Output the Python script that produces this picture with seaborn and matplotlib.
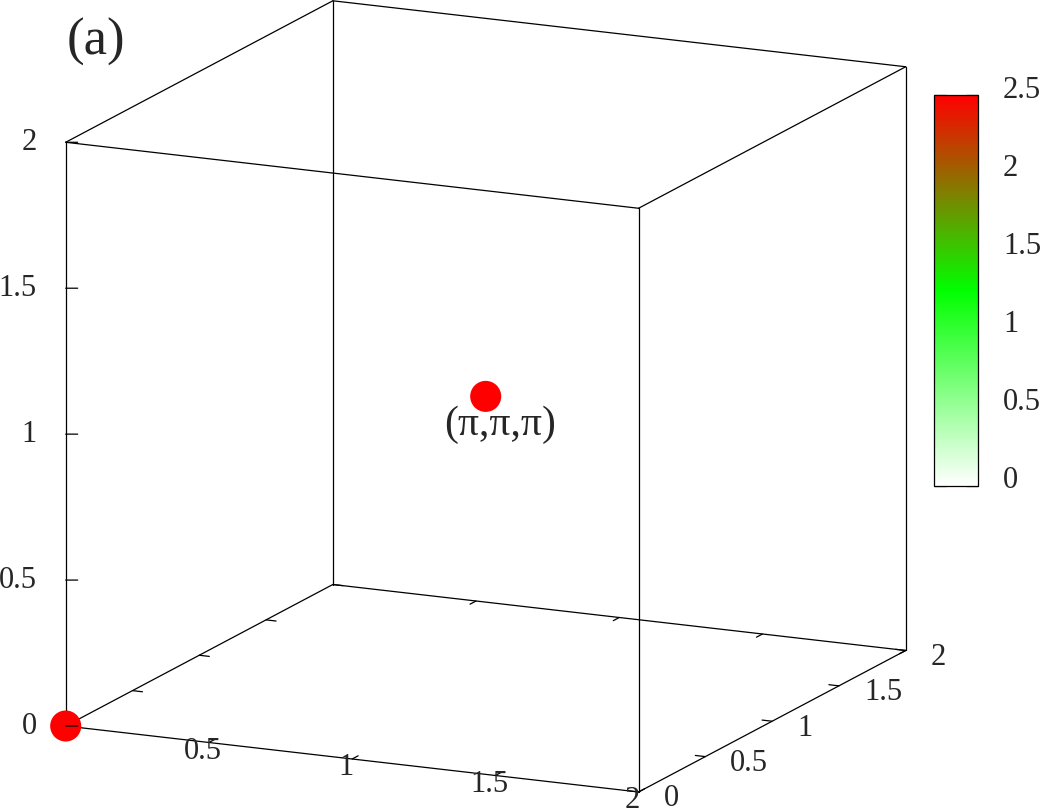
import numpy as np
import matplotlib
matplotlib.use("Agg")
import matplotlib.pyplot as plt
import matplotlib.transforms as mtransforms
from matplotlib.colors import LinearSegmentedColormap
from mpl_toolkits.mplot3d import proj3d
import seaborn as sns

# --- data ---
axis_range = [0, 2]
point_x = [0, 1]
point_y = [0, 1]
point_z = [0, 1]
point_value = [2.5, 2.5]
point_labels = ["", "(π,π,π)"]
x_ticks = [0.5, 1, 1.5, 2]
y_ticks = [0, 0.5, 1, 1.5, 2]
z_ticks = [0, 0.5, 1, 1.5, 2]
cb_range = [0, 2.5]
cb_ticks = [0, 0.5, 1, 1.5, 2, 2.5]
palette = ["#ffffff", "#00ff00", "#ff0000"]
panel_tag = "(a)"

W, H, DPI = 1041, 809, 100
LW = 0.9
TICK_FS = 22

sns.set_style("white")
plt.rcParams["font.family"] = ["Liberation Serif", "DejaVu Serif"]

cmap = LinearSegmentedColormap.from_list("white_green_red", palette)

fig = plt.figure(figsize=(W / DPI, H / DPI), dpi=DPI)
ax = fig.add_axes([0, 0, 1, 1], projection="3d")
ax.set_proj_type("ortho")
ax.view_init(elev=14.3, azim=-65)
ax.set_box_aspect((1, 1, 0.953))
ax.set_axis_off()
ax.computed_zorder = False

lo, hi = axis_range

# cube frame
corners = [(x, y, z) for x in axis_range for y in axis_range for z in axis_range]
for a in corners:
    for b in corners:
        if a < b and sum(p != q for p, q in zip(a, b)) == 1:
            ax.plot(*zip(a, b), color="black", lw=LW, zorder=1)


def seg(p, d, z=1):
    ax.plot([p[0], p[0] + d[0]], [p[1], p[1] + d[1]], [p[2], p[2] + d[2]],
            color="black", lw=LW, zorder=z)


# tick marks (mirrored on the back edges, like gnuplot)
for v in x_ticks:
    seg((v, lo, lo), (0, 0.045, 0))
    seg((v, hi, lo), (0, -0.045, 0))
for v in y_ticks:
    seg((hi, v, lo), (-0.035, 0, 0))
    seg((lo, v, lo), (0.035, 0, 0))
for v in z_ticks:
    seg((lo, lo, v), (0.0344, 0.016, 0), z=5)

sc = ax.scatter(point_x, point_y, point_z, c=point_value, cmap=cmap,
                vmin=cb_range[0], vmax=cb_range[1], s=500, depthshade=False,
                edgecolors="none", zorder=3)
ax.set_xlim(axis_range)
ax.set_ylim(axis_range)
ax.set_zlim(axis_range)

# place the projected cube where the reference has it
fig.canvas.draw()


def to_px(xs, ys, zs):
    px, py, _ = proj3d.proj_transform(np.asarray(xs, float), np.asarray(ys, float),
                                      np.asarray(zs, float), ax.get_proj())
    return ax.transData.transform(np.column_stack([px, py]))


box_px = to_px(*np.array(corners, float).T)
scale = 840.0 / (box_px[:, 0].max() - box_px[:, 0].min())
origin_now = to_px([lo], [lo], [lo])[0]
shift = np.array([65.7, H - 726.0]) - scale * origin_now
pos = ax.get_position()
ax.set_position([(scale * pos.x0 * W + shift[0]) / W, (scale * pos.y0 * H + shift[1]) / H,
                 scale * pos.width, scale * pos.height])


def off(dx, dy):
    return mtransforms.offset_copy(ax.transData, fig=fig, x=dx, y=dy, units="dots")


fmt = lambda v: f"{v:g}"
for v in x_ticks:
    ax.text(v, lo, lo, fmt(v), transform=off(-6, -9), ha="center", va="center", fontsize=TICK_FS)
for v in y_ticks:
    ax.text(hi, v, lo, fmt(v), transform=off(25, -7), ha="left", va="center", fontsize=TICK_FS)
for v in z_ticks:
    ax.text(lo, lo, v, fmt(v), transform=off(-29, 0), ha="right", va="center", fontsize=TICK_FS)
for x, y, z, t in zip(point_x, point_y, point_z, point_labels):
    if t:
        ax.text(x, y, z, t, transform=off(14.5, -28), ha="center", va="center", fontsize=30)

fig.text(67 / W, 1 - 42 / H, panel_tag, fontsize=38, ha="left", va="center")

# colour box
cax = fig.add_axes([934 / W, 1 - 486 / H, 44 / W, 391 / H])
cb = fig.colorbar(sc, cax=cax)
cb.set_ticks(cb_ticks)
cb.outline.set_linewidth(LW)
cb.outline.set_edgecolor("black")
cax.tick_params(axis="y", direction="in", length=8.6, width=LW, left=True, right=True,
                labelleft=False, labelright=False, color="black")
lab_tr = (mtransforms.blended_transform_factory(cax.transAxes, cax.transData)
          + mtransforms.Affine2D().translate(25, 5))
for v in cb_ticks:
    cax.text(1, v, fmt(v), transform=lab_tr, ha="left", va="center",
             fontsize=TICK_FS, clip_on=False)

fig.savefig("out.png", dpi=DPI)
